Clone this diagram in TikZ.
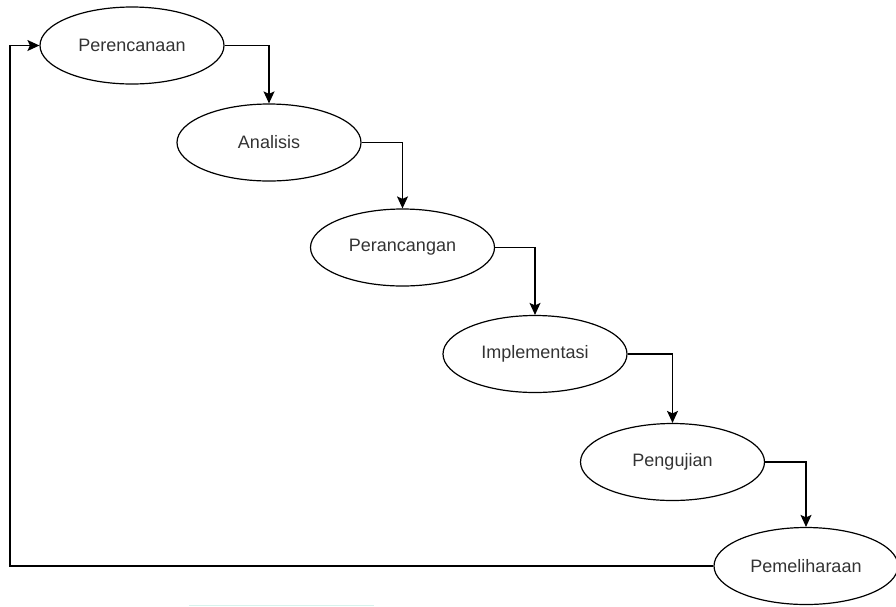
\documentclass[tikz,border=0pt]{standalone}
\usepackage{fontspec}
\setmainfont{Liberation Sans}
\usetikzlibrary{arrows.meta,shapes.geometric}
\definecolor{txt}{RGB}{51,51,51}
\definecolor{faint}{RGB}{215,242,236}
\begin{document}
\begin{tikzpicture}[x=1pt,y=-1pt,
  phase/.style={draw=black,line width=1.2pt,ellipse,minimum width=184pt,minimum height=77pt,inner sep=0pt,font=\fontsize{18}{20}\selectfont,text=txt},
  flow/.style={draw=black,line width=1.2pt,-{Stealth[length=12pt,width=11pt,inset=2.5pt]}}]
\useasboundingbox (0,0) rectangle (896,606);
\node[phase] (p1) at (132,45.5) {Perencanaan};
\node[phase] (p2) at (269,142.5) {Analisis};
\node[phase] (p3) at (402.5,247.5) {Perancangan};
\node[phase] (p4) at (535,354) {Implementasi};
\node[phase] (p5) at (672.5,462) {Pengujian};
\node[phase] (p6) at (806,566) {Pemeliharaan};
\draw[flow] (p1.east) -| (p2.north);
\draw[flow] (p2.east) -| (p3.north);
\draw[flow] (p3.east) -| (p4.north);
\draw[flow] (p4.east) -| (p5.north);
\draw[flow] (p5.east) -| (p6.north);
\coordinate (c1) at (10,566);
\coordinate (c2) at (10,45.5);
\draw[flow] (p6.west) -- (c1) -- (c2) -- (p1.west);
\coordinate (f1) at (189,605);
\coordinate (f2) at (374,605);
\draw[faint,line width=1pt] (f1) -- (f2);
\end{tikzpicture}
\end{document}
